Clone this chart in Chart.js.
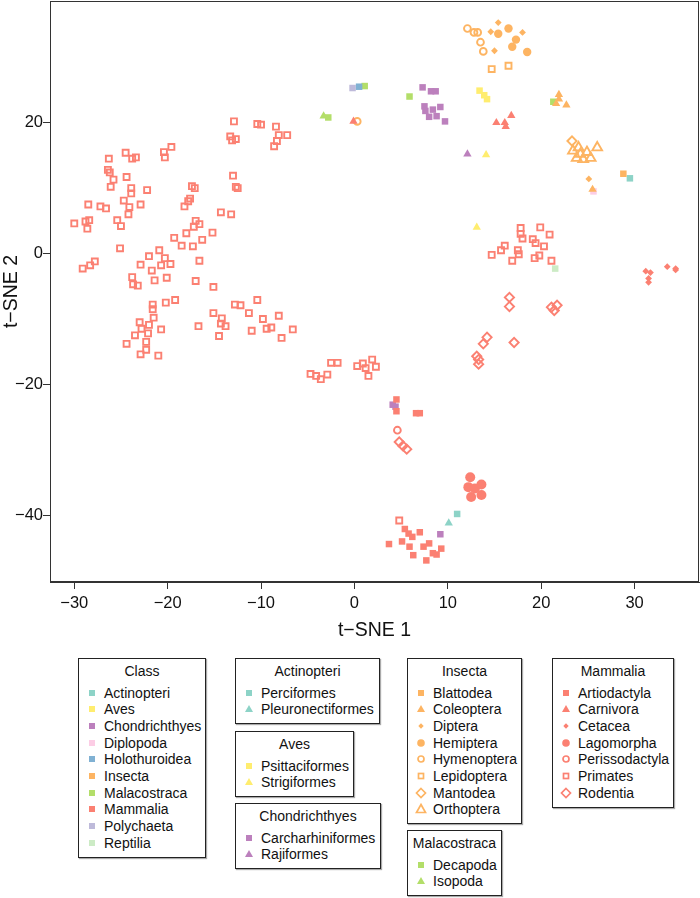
<!DOCTYPE html>
<html lang="en">
<head>
<meta charset="UTF-8">
<title>t-SNE of species</title>
<style>
  body { margin: 0; background: #fff; font-family: 'Liberation Sans', Arial, Helvetica, sans-serif; }
  #wrap { position: relative; width: 700px; height: 898px; overflow: hidden; }
  #chartBox { position: absolute; left: 0; top: 0; width: 700px; height: 650px; }
  .lg { position: absolute; border: 1px solid #222; box-shadow: 1px 1px 1px #aaa; background: #fff; box-sizing: border-box; }
  .lg .t { position: absolute; left: 0; right: 0; text-align: center; font-size: 14px; line-height: 16px; color: #111; }
  .lg .it { position: absolute; font-size: 14px; line-height: 16px; white-space: nowrap; color: #111; }
  .lg svg { position: absolute; overflow: visible; }
</style>
<script src="https://cdn.jsdelivr.net/npm/chart.js"></script>
</head>
<body>
<div id="wrap">
  <div id="chartBox"><canvas id="tsne"></canvas></div>
</div>

<script>
  // axis ticks
  const xTicks = [-30, -20, -10, 0, 10, 20, 30];
  const yTicks = [-40, -20, 0, 20];

  // classes and their colours
  const classNames = ['Actinopteri', 'Aves', 'Chondrichthyes', 'Diplopoda', 'Holothuroidea',
    'Insecta', 'Malacostraca', 'Mammalia', 'Polychaeta', 'Reptilia'];
  const classColors = ['#8DD3C7', '#FFED6F', '#BC80BD', '#FCCDE5', '#80B1D3',
    '#FDB462', '#B3DE69', '#FB8072', '#BEBADA', '#CCEBC5'];

  // orders per class (legend order)
  const actinopteriOrders = ['Perciformes', 'Pleuronectiformes'];
  const avesOrders = ['Psittaciformes', 'Strigiformes'];
  const chondrichthyesOrders = ['Carcharhiniformes', 'Rajiformes'];
  const insectaOrders = ['Blattodea', 'Coleoptera', 'Diptera', 'Hemiptera', 'Hymenoptera',
    'Lepidoptera', 'Mantodea', 'Orthoptera'];
  const malacostracaOrders = ['Decapoda', 'Isopoda'];
  const mammaliaOrders = ['Artiodactyla', 'Carnivora', 'Cetacea', 'Lagomorpha', 'Perissodactyla',
    'Primates', 'Rodentia'];

  // points [t-SNE 1, t-SNE 2]
  const perciformes = [[29.5, 11.5], [11.0, -39.8]];
  const pleuronectiformes = [[10.1, -41.2]];
  const psittaciformes = [[13.4, 24.9], [13.9, 24.2], [14.2, 23.6]];
  const strigiformes = [[14.1, 15.1], [13.1, 4.0]];
  const carcharhiniformes = [[4.1, -23.1], [4.4, -23.4], [9.2, -42.9], [7.3, 25.4], [8.2, 24.8],
    [8.7, 24.8], [7.5, 22.5], [7.6, 21.8], [8.4, 22.0], [9.2, 22.4], [8.0, 20.9], [8.8, 21.0], [9.7, 20.2]];
  const rajiformes = [[12.1, 15.2]];
  const diplopoda = [[25.6, 9.5]];
  const holothuroidea = [[0.5, 25.5]];
  const polychaeta = [[-0.2, 25.3]];
  const reptilia = [[21.5, -2.3]];
  const decapoda = [[1.1, 25.6], [5.9, 24.0], [-2.8, 20.8], [21.3, 23.2]];
  const isopoda = [[-3.3, 21.0]];

  const blattodea = [[28.8, 12.2]];
  const coleoptera = [[21.9, 24.3], [21.9, 23.6], [21.6, 22.9], [22.7, 22.7], [25.5, 9.8]];
  const diptera = [[15.4, 35.3], [14.6, 33.9], [18.0, 33.8], [15.0, 31.0], [25.1, 11.4]];
  const hemiptera = [[16.5, 34.4], [15.4, 33.6], [17.3, 32.7], [16.9, 31.6], [18.5, 30.8]];
  const hymenoptera = [[12.1, 34.4], [12.8, 33.8], [13.2, 33.8], [13.5, 32.3], [13.8, 30.9], [0.3, 20.2]];
  const lepidoptera = [[14.7, 28.2], [16.5, 28.7]];
  const mantodea = [[23.3, 17.2]];
  const orthoptera = [[24.0, 16.2], [23.4, 15.7], [24.9, 15.5], [26.0, 16.2], [23.8, 14.6],
    [24.5, 14.4], [25.3, 14.6], [24.2, 15.2]];

  const artiodactyla = [[4.5, -22.3], [4.5, -24.1], [6.6, -24.4], [7.0, -24.4], [5.4, -42.1],
    [5.8, -42.8], [6.2, -43.3], [7.0, -42.6], [3.7, -44.4], [5.1, -44.0], [5.9, -44.8], [7.4, -44.8],
    [8.0, -44.3], [6.3, -46.1], [8.4, -45.8], [8.8, -46.0], [9.3, -45.1], [7.7, -46.9]];
  const carnivora = [[15.2, 20.0], [16.1, 20.0], [16.2, 19.4], [16.8, 21.1], [-0.1, 20.2]];
  const cetacea = [[31.2, -2.7], [31.7, -2.9], [31.5, -3.8], [31.5, -4.4], [33.5, -2.0], [34.4, -2.3], [34.4, -2.5]];
  const lagomorpha = [[12.4, -34.2], [12.2, -35.7], [13.6, -35.3], [13.6, -36.9], [12.5, -37.2], [12.9, -35.9]];
  const perissodactyla = [[4.6, -27.0]];
  const rodentia = [[4.8, -28.8], [5.2, -29.4], [5.6, -29.9], [16.6, -6.7], [16.6, -8.1], [21.1, -8.2],
    [21.4, -8.7], [21.7, -7.9], [14.2, -12.8], [13.8, -13.8], [17.1, -13.6], [13.1, -15.7], [13.3, -16.2], [13.3, -16.9]];
  const primates = [
    [-12.9, 20.2], [-10.4, 19.8], [-10.0, 19.7], [-8.4, 19.4], [-13.3, 17.9], [-13.1, 17.3], [-12.7, 17.5],
    [-8.1, 18.1], [-7.2, 18.1], [-8.3, 17.2], [-8.6, 16.4], [-19.6, 16.3], [-20.4, 15.5], [-20.3, 14.7],
    [-24.5, 15.4], [-26.3, 14.5], [-23.8, 14.5], [-23.4, 14.7], [-26.4, 12.8], [-26.2, 12.4], [-25.8, 11.3],
    [-24.4, 11.7], [-26.1, 10.2], [-13.0, 11.9], [-12.7, 10.2], [-12.5, 10.0], [-23.9, 10.0], [-23.9, 9.2],
    [-22.2, 9.7], [-17.4, 10.3], [-17.1, 10.0], [-17.6, 8.4], [-17.8, 8.0], [-18.2, 7.2], [-28.5, 7.5],
    [-27.2, 7.2], [-26.6, 6.9], [-24.7, 8.1], [-24.1, 7.1], [-22.9, 7.5], [-24.2, 6.0], [-14.3, 6.3],
    [-13.2, 6.0], [-30.0, 4.6], [-28.8, 4.9], [-28.4, 5.1], [-28.6, 3.8], [-25.4, 5.1], [-25.0, 4.2],
    [-17.0, 5.0], [-16.6, 4.5], [-17.2, 4.1], [-18.0, 3.1], [-15.2, 3.2], [-16.3, 2.1], [-19.3, 2.4],
    [-18.5, 1.2], [-17.3, 1.1], [-25.1, 0.8], [-20.9, 0.5], [-22.0, -0.4], [-20.3, -0.7], [-19.7, -1.6],
    [-20.7, -1.8], [-22.9, -1.7], [-16.6, -1.1], [-29.1, -2.3], [-28.3, -1.8], [-27.8, -1.2], [-21.7, -2.6],
    [-23.8, -3.6], [-23.7, -4.7], [-23.2, -4.9], [-21.4, -4.1], [-20.1, -3.7], [-17.0, -4.2], [-15.1, -5.1],
    [-21.6, -7.8], [-21.6, -8.5], [-20.2, -7.5], [-19.2, -7.1], [-21.5, -9.8], [-23.0, -10.5], [-22.0, -10.9],
    [-22.8, -11.5], [-23.5, -12.5], [-22.1, -12.2], [-20.7, -11.6], [-24.4, -13.8], [-22.3, -13.5],
    [-22.3, -14.7], [-22.9, -15.4], [-21.0, -15.6], [-16.7, -11.1], [-15.1, -9.1], [-14.2, -9.9],
    [-14.3, -10.7], [-13.8, -11.1], [-14.5, -12.6], [-12.8, -7.8], [-12.2, -7.9], [-10.4, -7.1],
    [-11.3, -9.1], [-9.8, -10.0], [-8.1, -9.5], [-11.0, -11.8], [-9.4, -11.5], [-8.9, -11.3], [-7.8, -12.9],
    [-6.6, -11.6], [-2.5, -16.7], [-1.8, -16.7], [-4.7, -18.4], [-4.1, -18.7], [-3.6, -19.2], [-2.9, -18.5],
    [0.3, -17.2], [0.9, -16.8], [1.2, -17.5], [1.9, -16.2], [2.3, -17.3], [1.5, -18.7], [4.8, -40.8],
    [17.8, 3.9], [17.8, 3.0], [18.0, 2.3], [19.9, 4.0], [20.9, 2.9], [19.1, 2.2], [19.4, 1.6], [20.3, 1.1],
    [16.1, 1.2], [15.7, 0.5], [14.7, -0.2], [17.5, 0.5], [17.6, -0.1], [16.9, -1.1], [19.3, -0.7],
    [19.8, -0.3], [21.1, -1.1]];

  const FONT = "'Liberation Sans', Arial, Helvetica, sans-serif";
  const col = name => classColors[classNames.indexOf(name)];

  // marker looks, R-like: filled square/triangle/diamond/circle and open versions
  const shapes = {
    sq:    { pointStyle: 'rect', radius: 4.6, open: false },
    tri:   { pointStyle: 'triangle', radius: 4.8, open: false },
    dia:   { pointStyle: 'rectRot', radius: 3.4, open: false },
    circ:  { pointStyle: 'circle', radius: 4.2, open: false },
    bcirc: { pointStyle: 'circle', radius: 5.0, open: false },
    ocirc: { pointStyle: 'circle', radius: 3.4, open: true },
    osq:   { pointStyle: 'rect', radius: 4.2, open: true },
    odia:  { pointStyle: 'rectRot', radius: 4.6, open: true },
    otri:  { pointStyle: 'triangle', radius: 5.6, open: true }
  };

  function series(label, pts, cls, shape) {
    const s = shapes[shape];
    const c = col(cls);
    return {
      label: label,
      data: pts.map(p => ({ x: p[0], y: p[1] })),
      pointStyle: s.pointStyle,
      pointRadius: s.radius,
      backgroundColor: s.open ? 'rgba(0,0,0,0)' : c,
      borderColor: c,
      borderWidth: s.open ? 1.9 : 0
    };
  }

  const datasets = [
    series('Primates', primates, 'Mammalia', 'osq'),
    series('Artiodactyla', artiodactyla, 'Mammalia', 'sq'),
    series('Carnivora', carnivora, 'Mammalia', 'tri'),
    series('Cetacea', cetacea, 'Mammalia', 'dia'),
    series('Lagomorpha', lagomorpha, 'Mammalia', 'bcirc'),
    series('Perissodactyla', perissodactyla, 'Mammalia', 'ocirc'),
    series('Rodentia', rodentia, 'Mammalia', 'odia'),
    series('Blattodea', blattodea, 'Insecta', 'sq'),
    series('Coleoptera', coleoptera, 'Insecta', 'tri'),
    series('Diptera', diptera, 'Insecta', 'dia'),
    series('Hemiptera', hemiptera, 'Insecta', 'circ'),
    series('Hymenoptera', hymenoptera, 'Insecta', 'ocirc'),
    series('Lepidoptera', lepidoptera, 'Insecta', 'osq'),
    series('Mantodea', mantodea, 'Insecta', 'odia'),
    series('Orthoptera', orthoptera, 'Insecta', 'otri'),
    series('Perciformes', perciformes, 'Actinopteri', 'sq'),
    series('Pleuronectiformes', pleuronectiformes, 'Actinopteri', 'tri'),
    series('Psittaciformes', psittaciformes, 'Aves', 'sq'),
    series('Strigiformes', strigiformes, 'Aves', 'tri'),
    series('Carcharhiniformes', carcharhiniformes, 'Chondrichthyes', 'sq'),
    series('Rajiformes', rajiformes, 'Chondrichthyes', 'tri'),
    series('Diplopoda', diplopoda, 'Diplopoda', 'sq'),
    series('Holothuroidea', holothuroidea, 'Holothuroidea', 'sq'),
    series('Polychaeta', polychaeta, 'Polychaeta', 'sq'),
    series('Decapoda', decapoda, 'Malacostraca', 'sq'),
    series('Isopoda', isopoda, 'Malacostraca', 'tri'),
    series('Reptilia', reptilia, 'Reptilia', 'sq')
  ];

  const fmt = v => (v < 0 ? '\u2212' + Math.abs(v) : String(v));

  // full box around the plot, like R's bty="o"
  const boxPlugin = {
    id: 'box',
    afterDraw(chart) {
      const a = chart.chartArea, ctx = chart.ctx;
      ctx.save();
      ctx.strokeStyle = '#333';
      ctx.lineWidth = 1;
      ctx.strokeRect(Math.round(a.left) + 0.5, Math.round(a.top) + 0.5,
        Math.round(a.right - a.left) - 1, Math.round(a.bottom - a.top) - 1);
      ctx.restore();
    }
  };

  new Chart(document.getElementById('tsne'), {
    type: 'scatter',
    data: { datasets: datasets },
    options: {
      responsive: true,
      maintainAspectRatio: false,
      animation: false,
      events: [],
      layout: { autoPadding: false, padding: { top: 1, right: 1, left: 0, bottom: 0 } },
      plugins: { legend: { display: false }, tooltip: { enabled: false } },
      scales: {
        x: {
          type: 'linear', min: -32.6, max: 36.9,
          afterBuildTicks: s => { s.ticks = xTicks.map(v => ({ value: v })); },
          afterFit: s => { s.height = 68; s.paddingLeft = 0; s.paddingRight = 0; },
          grid: { drawOnChartArea: false, drawTicks: true, tickLength: 7, tickColor: '#333' },
          border: { display: true, color: '#333', width: 1 },
          ticks: { font: { size: 16.5, family: FONT }, color: '#111', padding: 5, maxRotation: 0, autoSkip: false, callback: fmt },
          title: { display: true, text: 't\u2212SNE 1', font: { size: 19.5, family: FONT }, color: '#111', padding: { top: 0, bottom: 8 } }
        },
        y: {
          type: 'linear', min: -50.2, max: 38.6,
          afterBuildTicks: s => { s.ticks = yTicks.map(v => ({ value: v })); },
          afterFit: s => { s.width = 50; s.paddingTop = 0; s.paddingBottom = 0; },
          grid: { drawOnChartArea: false, drawTicks: true, tickLength: 7, tickColor: '#333' },
          border: { display: true, color: '#333', width: 1 },
          ticks: { font: { size: 16.5, family: FONT }, color: '#111', padding: 0, autoSkip: false, callback: fmt },
          title: { display: true, text: 't\u2212SNE 2', font: { size: 19.5, family: FONT }, color: '#111', padding: { top: 0, bottom: 0 } }
        }
      }
    },
    plugins: [boxPlugin]
  });

  // legend boxes under the plot
  const legendBoxes = [
    { title: 'Class', left: 78, top: 658, width: 128, names: classNames, colors: classColors, shapes: classNames.map(() => 'sq') },
    { title: 'Actinopteri', left: 235, top: 658, width: 145, names: actinopteriOrders, colors: actinopteriOrders.map(() => col('Actinopteri')), shapes: ['sq', 'tri'] },
    { title: 'Aves', left: 235, top: 731, width: 119, names: avesOrders, colors: avesOrders.map(() => col('Aves')), shapes: ['sq', 'tri'] },
    { title: 'Chondrichthyes', left: 235, top: 803, width: 146, names: chondrichthyesOrders, colors: chondrichthyesOrders.map(() => col('Chondrichthyes')), shapes: ['sq', 'tri'] },
    { title: 'Insecta', left: 407, top: 658, width: 115, names: insectaOrders, colors: insectaOrders.map(() => col('Insecta')), shapes: ['sq', 'tri', 'dia', 'circ', 'ocirc', 'osq', 'odia', 'otri'] },
    { title: 'Malacostraca', left: 407, top: 830, width: 95, names: malacostracaOrders, colors: malacostracaOrders.map(() => col('Malacostraca')), shapes: ['sq', 'tri'] },
    { title: 'Mammalia', left: 552, top: 658, width: 122, names: mammaliaOrders, colors: mammaliaOrders.map(() => col('Mammalia')), shapes: ['sq', 'tri', 'dia', 'circ', 'ocirc', 'osq', 'odia', 'otri'] }
  ];
  const itemStep = 16.67;

  function markerSvg(shape, color) {
    const ns = 'http://www.w3.org/2000/svg';
    const svg = document.createElementNS(ns, 'svg');
    svg.setAttribute('width', '12');
    svg.setAttribute('height', '12');
    let el;
    const open = shape.charAt(0) === 'o';
    const kind = open ? shape.slice(1) : shape;
    if (kind === 'sq') {
      el = document.createElementNS(ns, 'rect');
      const s = open ? 5 : 6;
      el.setAttribute('x', 6 - s / 2); el.setAttribute('y', 6 - s / 2);
      el.setAttribute('width', s); el.setAttribute('height', s);
    } else if (kind === 'tri') {
      el = document.createElementNS(ns, 'polygon');
      el.setAttribute('points', open ? '6,1.5 10.5,9.5 1.5,9.5' : '6,2 10,9 2,9');
    } else if (kind === 'dia') {
      el = document.createElementNS(ns, 'polygon');
      el.setAttribute('points', open ? '6,1.5 10.5,6 6,10.5 1.5,6' : '6,3.3 8.7,6 6,8.7 3.3,6');
    } else {
      el = document.createElementNS(ns, 'circle');
      el.setAttribute('cx', 6); el.setAttribute('cy', 6); el.setAttribute('r', open ? 3 : 3.8);
    }
    if (open) {
      el.setAttribute('fill', 'none');
      el.setAttribute('stroke', color);
      el.setAttribute('stroke-width', '1.7');
    } else {
      el.setAttribute('fill', color);
    }
    svg.appendChild(el);
    return svg;
  }

  const wrap = document.getElementById('wrap');
  legendBoxes.forEach(b => {
    const box = document.createElement('div');
    box.className = 'lg';
    box.style.left = b.left + 'px';
    box.style.top = b.top + 'px';
    box.style.width = b.width + 'px';
    box.style.height = (33.5 + (b.names.length - 1) * itemStep + 16) + 'px';
    const t = document.createElement('div');
    t.className = 't';
    t.style.top = (12 - 8) + 'px';
    t.textContent = b.title;
    box.appendChild(t);
    b.names.forEach((n, i) => {
      const cy = 33.5 + i * itemStep;
      const m = markerSvg(b.shapes[i], b.colors[i]);
      m.style.left = (12.5 - 6) + 'px';
      m.style.top = (cy - 6) + 'px';
      box.appendChild(m);
      const it = document.createElement('div');
      it.className = 'it';
      it.style.left = '25px';
      it.style.top = (cy - 8) + 'px';
      it.textContent = n;
      box.appendChild(it);
    });
    wrap.appendChild(box);
  });
</script>
</body>
</html>
